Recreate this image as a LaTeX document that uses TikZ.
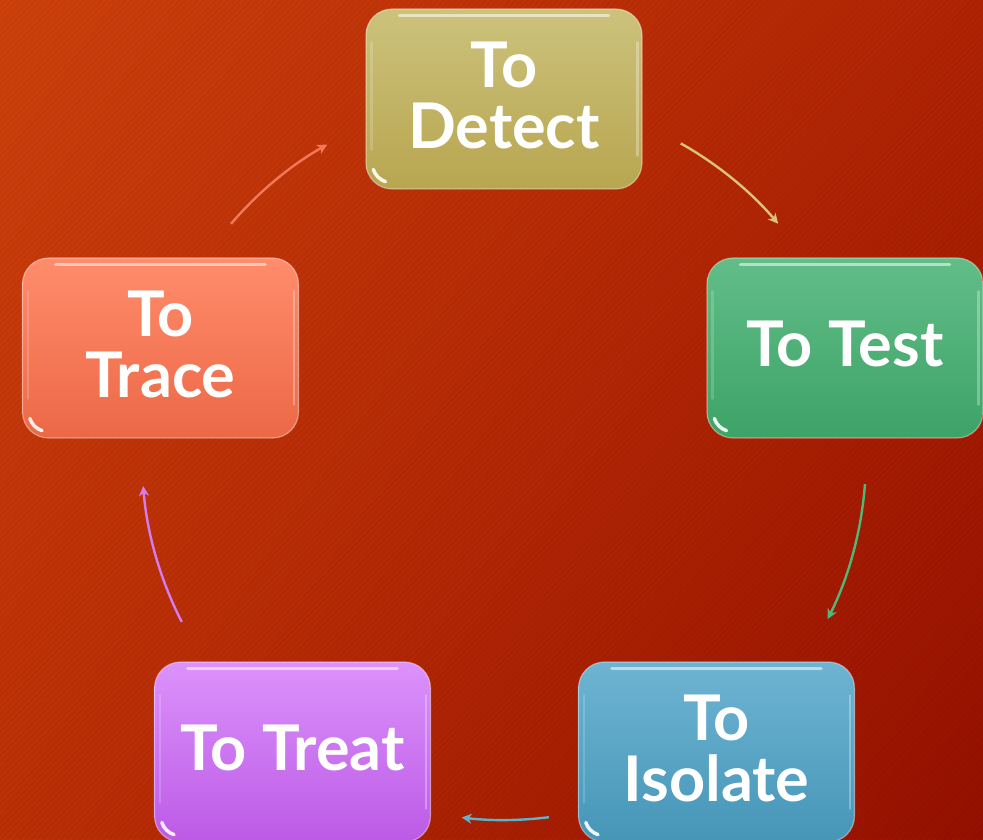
\documentclass[tikz,border=0pt]{standalone}
\usepackage{fontspec}
\setmainfont{Lato}
\usetikzlibrary{arrows.meta,calc,shadings}

% background
\definecolor{bgUL}{HTML}{D0420C}
\definecolor{bgUR}{HTML}{B22403}
\definecolor{bgLL}{HTML}{BE3006}
\definecolor{bgLR}{HTML}{981000}
% boxes (top / bottom)
\definecolor{detT}{HTML}{CCC27C}\definecolor{detB}{HTML}{B8A650}
\definecolor{tesT}{HTML}{62BD88}\definecolor{tesB}{HTML}{3DA367}
\definecolor{isoT}{HTML}{6EB4D2}\definecolor{isoB}{HTML}{4696B8}
\definecolor{treT}{HTML}{DC92FB}\definecolor{treB}{HTML}{BC5AE6}
\definecolor{traT}{HTML}{FF8C6C}\definecolor{traB}{HTML}{EC6846}
% connectors
\definecolor{arDet}{HTML}{D8C47A}
\definecolor{arTes}{HTML}{4EB878}
\definecolor{arIso}{HTML}{5AB4CC}
\definecolor{arTre}{HTML}{D27CF0}
\definecolor{arTra}{HTML}{F2785A}

\tikzset{
  stepbox/.style={rounded corners=26pt, minimum width=276pt, minimum height=180pt,
    inner sep=0pt, align=center, text=white, text depth=8pt,
    font=\fontsize{63}{61}\selectfont\bfseries},
  rim/.style={draw=white, draw opacity=0.4, line width=1.2pt},
  cyc/.style={line width=2.4pt, -{Stealth[length=10pt,width=10pt,inset=3pt]}},
}

\newcommand{\glossbox}[1]{%
  % top highlight and soft side rims
  \draw[white, opacity=0.55, line width=3.5pt, line cap=round]
    ($(#1.north west)+(34,-7)$) -- ($(#1.north east)+(-34,-7)$);
  \draw[white, opacity=0.18, line width=2.5pt, line cap=round]
    ($(#1.north west)+(6,-34)$) -- ($(#1.south west)+(6,40)$);
  \draw[white, opacity=0.30, line width=2.5pt, line cap=round]
    ($(#1.north east)+(-5,-34)$) -- ($(#1.south east)+(-5,34)$);
  % glint in the lower left corner
  \draw[white, opacity=0.9, line width=3.5pt, line cap=round]
    ($(#1.south west)+(26,26)$) ++(198:19) arc[start angle=198, end angle=252, radius=19];
}

\begin{document}
\begin{tikzpicture}[x=1pt,y=1pt]
\useasboundingbox (0,0) rectangle (983,839);

% backdrop with fine diagonal stripes
\shade[upper left=bgUL, upper right=bgUR, lower left=bgLL, lower right=bgLR]
  (0,0) rectangle (983,839);
\begin{scope}
  \clip (0,0) rectangle (983,839);
  \foreach \k in {0,...,305}
    \draw[black, opacity=0.045, line width=2.6pt] (\k*6-839,0) -- ++(839,839);
\end{scope}

% the five stages
\node[stepbox, top color=detT, bottom color=detB, rim] (detect)  at (504,740)   {To\\Detect};
\node[stepbox, top color=tesT, bottom color=tesB, rim] (test)    at (845,491)   {To Test};
\node[stepbox, top color=isoT, bottom color=isoB, rim] (isolate) at (716.5,87)  {To\\Isolate};
\node[stepbox, top color=treT, bottom color=treB, rim] (treat)   at (292.5,87)  {To Treat};
\node[stepbox, top color=traT, bottom color=traB, rim] (trace)   at (160.5,491) {To\\Trace};

\foreach \b in {detect,test,isolate,treat,trace} {\glossbox{\b}}

% curved connectors on a circle around the cycle
\coordinate (ctr) at (504,382);
\coordinate (c1) at ($(ctr)+(60.6:360)$);
\coordinate (c2) at ($(ctr)+(-4.3:362)$);
\coordinate (c3) at ($(ctr)+(-82.9:363)$);
\coordinate (c4) at ($(ctr)+(-152.9:362)$);
\coordinate (c5) at ($(ctr)+(139.5:359)$);

\draw[cyc, arDet] (c1) arc[start angle=60.6,   end angle=40.4,   radius=360];
\draw[cyc, arTes] (c2) arc[start angle=-4.3,   end angle=-26.6,  radius=362];
\draw[cyc, arIso] (c3) arc[start angle=-82.9,  end angle=-96.7,  radius=363];
\draw[cyc, arTre] (c4) arc[start angle=-152.9, end angle=-175.4, radius=362];
\draw[cyc, arTra] (c5) arc[start angle=139.5,  end angle=119.5,  radius=359];
\end{tikzpicture}
\end{document}
